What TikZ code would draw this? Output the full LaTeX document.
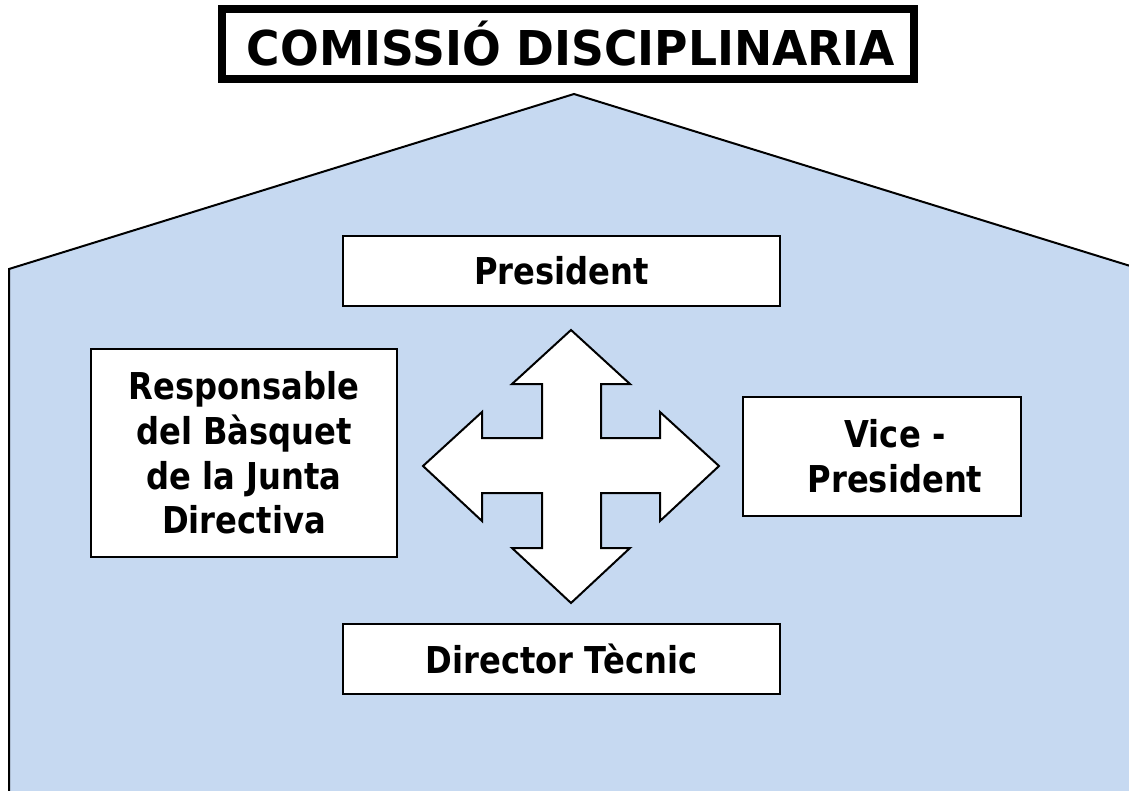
\documentclass[tikz,border=0pt]{standalone}
\usepackage{fontspec}
\setmainfont{DejaVu Sans}[FakeStretch=0.87]
\newfontfamily\titlefont{DejaVu Sans}[FakeStretch=0.95]
\definecolor{housefill}{RGB}{198,217,241}
\begin{document}
\begin{tikzpicture}[x=1pt,y=-1pt,
  box/.style={draw=black,line width=2pt,fill=white,inner sep=0pt,align=center,
    font=\bfseries\fontsize{37}{44.7}\selectfont},
  boxtext/.style={inner sep=0pt,align=center,font=\bfseries\fontsize{37}{44.7}\selectfont},
  titlebox/.style={draw=black,line width=8pt,fill=white,inner sep=0pt,
    font=\titlefont\bfseries\fontsize{48}{56}\selectfont}]
\useasboundingbox (0,0) rectangle (1129,791);
\clip (0,0) rectangle (1129,791);
\fill[white] (0,0) rectangle (1129,791);
% house
\draw[line width=2pt,fill=housefill] (9,800) -- (9,269) -- (574,94) -- (1140,269) -- (1140,800);
% title
\node[titlebox,minimum width=692,minimum height=70] (title) at (568,44) {};
\node[inner sep=0pt,font=\titlefont\bfseries\fontsize{48}{56}\selectfont] (titletext) at ([xshift=3]title.center) {COMISSIÓ DISCIPLINARIA};
% boxes
\node[box,minimum width=437,minimum height=70] (pres) at (561.5,271) {President};
\node[box,minimum width=306,minimum height=208] (resp) at (244,453) {Responsable\\del Bàsquet\\de la Junta\\Directiva};
\node[box,minimum width=278,minimum height=119] (vice) at (882,456.5) {};
\node[boxtext] (vicetext) at ([xshift=13]vice.center) {Vice -\\President};
\node[box,minimum width=437,minimum height=70] (dir) at (561.5,659) {Director Tècnic};
% four-way arrow
\draw[line width=2pt,fill=white,line join=miter]
  (571,330) -- (630,384) -- (601,384) -- (601,438) -- (660,438) -- (660,412)
  -- (719,466) -- (660,521) -- (660,493) -- (601,493) -- (601,548) -- (630,548)
  -- (571,603) -- (512,548) -- (542,548) -- (542,493) -- (482,493) -- (482,521)
  -- (423,466) -- (482,412) -- (482,438) -- (542,438) -- (542,384) -- (512,384) -- cycle;
\end{tikzpicture}
\end{document}
